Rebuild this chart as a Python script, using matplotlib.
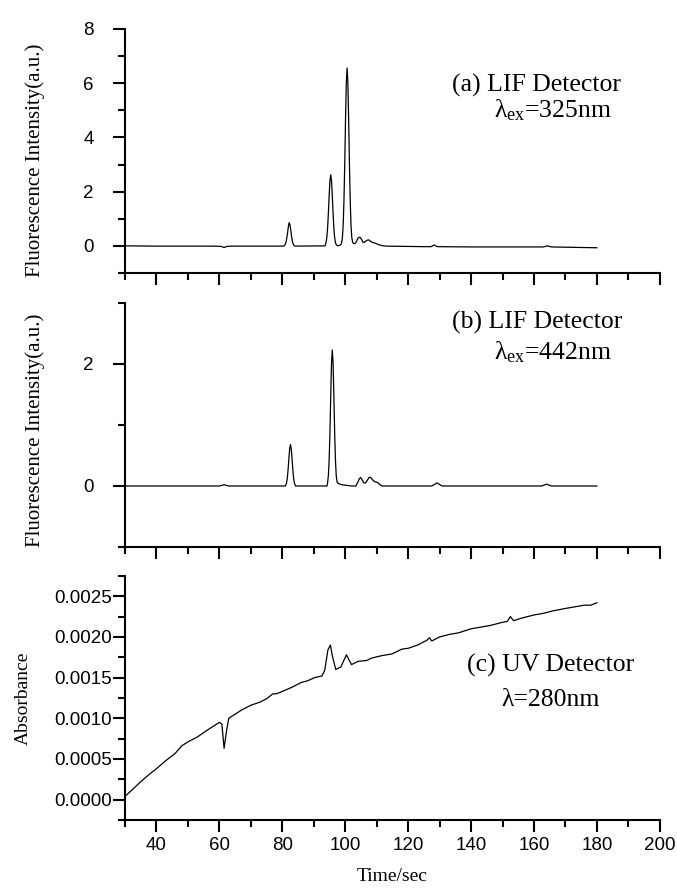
import matplotlib
matplotlib.use("Agg")
import matplotlib.pyplot as plt
from matplotlib.ticker import MultipleLocator, FormatStrFormatter

plt.rcParams["mathtext.fontset"] = "custom"
plt.rcParams["mathtext.rm"] = "Liberation Serif"
plt.rcParams["mathtext.it"] = "Liberation Serif:italic"

# (a) LIF detector, 325 nm excitation
t_a = [30, 40, 50, 58, 60.5, 61.5, 62.5, 64, 70, 80.4, 80.7, 80.95, 81.2, 81.45, 81.7, 81.95, 82.2,
       82.45, 82.7, 82.95, 83.2, 83.45, 83.7, 84.0,
       93.6, 93.9, 94.15, 94.4, 94.65, 94.9, 95.15, 95.4, 95.65, 95.9, 96.15, 96.4, 96.65, 96.9,
       97.2, 97.7, 98.3, 98.8, 99.1, 99.35, 99.6, 99.85, 100.1, 100.35, 100.6, 100.85, 101.1,
       101.35, 101.6, 101.85, 102.1, 102.4, 102.8, 103.3, 103.8, 104.2, 104.7, 105.2, 105.6,
       106.0, 106.5, 107.0, 107.5, 108.0, 108.6, 109.5, 110.5, 111.6, 113, 125, 127.3, 128.3,
       129.3, 140, 160, 163, 164.2, 165.5, 170, 180]
f_a = [0.0, -0.01, -0.01, -0.01, -0.02, -0.06, -0.02, -0.01, -0.01, -0.01, 0.01, 0.055, 0.15, 0.3,
       0.5, 0.72, 0.86, 0.78, 0.58, 0.35, 0.17, 0.07, 0.02, -0.01,
       0.0, 0.115, 0.3, 0.65, 1.2, 1.85, 2.4, 2.62, 2.4, 1.85, 1.2, 0.65, 0.3, 0.12,
       0.03, 0.0, 0.02, 0.07, 0.29, 0.75, 1.64, 3.0, 4.64, 6.0, 6.56, 6.0, 4.64,
       3.0, 1.64, 0.75, 0.3, 0.12, 0.08, 0.1, 0.22, 0.3, 0.32, 0.24, 0.14,
       0.12, 0.17, 0.21, 0.22, 0.17, 0.13, 0.1, 0.05, 0.01, -0.01, -0.03, -0.03, 0.03,
       -0.03, -0.04, -0.04, -0.04, 0.0, -0.04, -0.05, -0.07]

# (b) LIF detector, 442 nm excitation
t_b = [30, 45, 60, 61.5, 63, 75, 81.0, 81.35, 81.6, 81.85, 82.1, 82.35, 82.6, 82.85, 83.1, 83.35,
       83.6, 83.85, 84.2,
       94.2, 94.4, 94.65, 94.9, 95.15, 95.4, 95.65, 95.9, 96.15, 96.4, 96.65, 96.9, 97.15, 97.4,
       97.8, 99, 102,
       103.4, 104.0, 104.5, 104.9, 105.4, 105.9, 106.5, 107.1, 107.6, 108.1, 108.7, 109.4, 110.2,
       110.9, 111.6, 115, 127.5, 129.2, 130.8, 145, 162.5, 164, 165.5, 180]
f_b = [0.0, 0.0, 0.0, 0.02, 0.0, 0.0, 0.0, 0.05, 0.13, 0.27, 0.45, 0.61, 0.68, 0.61, 0.45, 0.27,
       0.13, 0.05, 0.0,
       0.0, 0.05, 0.17, 0.43, 0.88, 1.47, 2.01, 2.23, 2.01, 1.47, 0.88, 0.43, 0.17, 0.07,
       0.04, 0.02, 0.0,
       0.0, 0.06, 0.12, 0.14, 0.1, 0.05, 0.05, 0.1, 0.14, 0.14, 0.1, 0.07, 0.06,
       0.03, 0.0, 0.0, 0.0, 0.05, 0.0, 0.0, 0.0, 0.03, 0.0, 0.0]

# (c) UV detector, 280 nm
t_c = [30, 32, 35, 38, 40, 43, 46, 48, 50, 53, 56, 58, 60, 60.8, 61.5, 62.3, 63, 65, 67, 70, 73, 75,
       77, 78, 80, 83, 86, 88, 90.3, 92.6, 93.5, 94.5, 95.3, 95.9, 97.0, 98.6, 100.4, 102, 104.1,
       106.8, 108.4, 111.6, 114.8, 118, 120, 123, 126, 126.8, 127.5, 130, 133, 136, 140, 143, 146,
       150, 151.5, 152.5, 153.5, 156, 160, 163, 166, 170, 173, 176, 178, 180]
a_c = [0.00004, 0.00011, 0.00022, 0.00032, 0.00038, 0.00048, 0.00057, 0.00066, 0.00071, 0.00077,
       0.00085, 0.0009, 0.00095, 0.00093, 0.00063, 0.00085, 0.0010, 0.00105, 0.0011, 0.00116,
       0.0012, 0.00124, 0.0013, 0.0013, 0.00133, 0.00138, 0.00144, 0.00146, 0.0015, 0.00152,
       0.00159, 0.00184, 0.0019, 0.00177, 0.0016, 0.00163, 0.00178, 0.00166, 0.0017,
       0.00171, 0.00174, 0.00177, 0.00179, 0.00185, 0.00186, 0.0019, 0.00196, 0.00199, 0.00195,
       0.002, 0.00203, 0.00205, 0.0021, 0.00212, 0.00214, 0.00218, 0.00219, 0.00225, 0.0022,
       0.00223, 0.00227, 0.00229, 0.00232, 0.00235, 0.00237, 0.00239, 0.00239, 0.00242]

serif = "Liberation Serif"
sans = "Liberation Sans"

fig = plt.figure(figsize=(6.77, 8.9), dpi=100)
ax_a = fig.add_axes([0.1846, 0.6933, 0.790, 0.2742])
ax_b = fig.add_axes([0.1846, 0.3854, 0.790, 0.2742])
ax_c = fig.add_axes([0.1846, 0.0787, 0.790, 0.2742])

ax_a.plot(t_a, f_a, color="k", lw=0.9)
ax_b.plot(t_b, f_b, color="k", lw=0.9)
ax_c.plot(t_c, a_c, color="k", lw=0.9)

ax_a.set_ylim(-1, 8)
ax_b.set_ylim(-1, 3)
ax_c.set_ylim(-0.00025, 0.00275)
ax_a.yaxis.set_major_locator(MultipleLocator(2))
ax_a.yaxis.set_minor_locator(MultipleLocator(1))
ax_b.yaxis.set_major_locator(MultipleLocator(2))
ax_b.yaxis.set_minor_locator(MultipleLocator(1))
ax_c.yaxis.set_major_locator(MultipleLocator(0.0005))
ax_c.yaxis.set_minor_locator(MultipleLocator(0.00025))
ax_c.yaxis.set_major_formatter(FormatStrFormatter("%.4f"))

for ax in (ax_a, ax_b, ax_c):
    ax.set_xlim(30, 200)
    ax.xaxis.set_major_locator(MultipleLocator(20))
    ax.xaxis.set_minor_locator(MultipleLocator(10))
    for s in ("top", "right"):
        ax.spines[s].set_visible(False)
    for s in ("left", "bottom"):
        ax.spines[s].set_linewidth(1.5)
    ax.tick_params(which="major", direction="out", length=8.6, width=1.5)
    ax.tick_params(which="minor", direction="out", length=5, width=1.5)
    for lab in ax.get_xticklabels() + ax.get_yticklabels():
        lab.set_fontfamily(sans)
        lab.set_fontsize(13.5)

ax_a.tick_params(axis="x", labelbottom=False)
ax_b.tick_params(axis="x", labelbottom=False)
ax_a.tick_params(axis="y", which="major", pad=14)
ax_b.tick_params(axis="y", which="major", pad=14)
ax_c.tick_params(axis="y", which="major", pad=0.5)
ax_c.tick_params(axis="x", which="major", pad=4)

ax_a.set_ylabel("Fluorescence Intensity(a.u.)", fontfamily=serif, fontsize=15)
ax_b.set_ylabel("Fluorescence Intensity(a.u.)", fontfamily=serif, fontsize=15)
ax_c.set_ylabel("Absorbance", fontfamily=serif, fontsize=14)
ax_a.yaxis.set_label_coords(-0.1495, 0.46)
ax_b.yaxis.set_label_coords(-0.1495, 0.48)
ax_c.yaxis.set_label_coords(-0.174, 0.5)
ax_c.set_xlabel("Time/sec", fontfamily=serif, fontsize=14, labelpad=10)

ax_a.text(0.77, 0.77, "(a) LIF Detector", ha="center", va="center",
          fontfamily=serif, fontsize=18.5, transform=ax_a.transAxes)
ax_a.text(0.69, 0.665, r"λ$_{\mathrm{ex}}$=325nm", ha="left", va="center",
          fontfamily=serif, fontsize=18.5, transform=ax_a.transAxes)
ax_b.text(0.77, 0.92, "(b) LIF Detector", ha="center", va="center",
          fontfamily=serif, fontsize=18.5, transform=ax_b.transAxes)
ax_b.text(0.69, 0.80, r"λ$_{\mathrm{ex}}$=442nm", ha="left", va="center",
          fontfamily=serif, fontsize=18.5, transform=ax_b.transAxes)
ax_c.text(0.795, 0.635, "(c) UV Detector", ha="center", va="center",
          fontfamily=serif, fontsize=18.5, transform=ax_c.transAxes)
ax_c.text(0.795, 0.49, "λ=280nm", ha="center", va="center",
          fontfamily=serif, fontsize=18.5, transform=ax_c.transAxes)

fig.savefig("out.png", dpi=100)
